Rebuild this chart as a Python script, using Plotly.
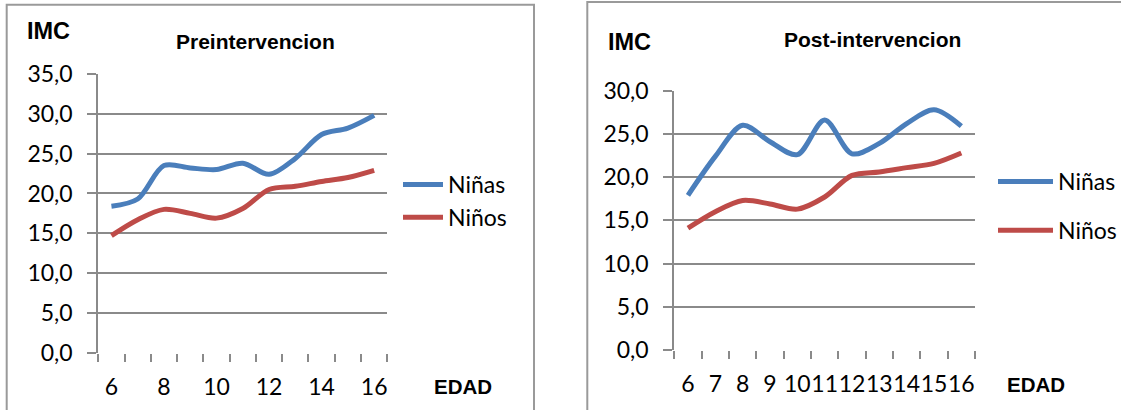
import plotly.graph_objects as go

# Ages (EDAD) and mean BMI (IMC) per group
edad = [6, 7, 8, 9, 10, 11, 12, 13, 14, 15, 16]

pre_ninas = [18.4, 19.3, 23.5, 23.2, 23.0, 23.8, 22.4, 24.4, 27.4, 28.2, 29.8]
pre_ninos = [14.7, 16.7, 18.0, 17.5, 16.9, 18.1, 20.5, 20.9, 21.5, 22.0, 22.9]

post_ninas = [17.9, 22.4, 26.0, 24.1, 22.6, 26.6, 22.7, 23.9, 26.2, 27.8, 25.9]
post_ninos = [14.1, 16.0, 17.3, 16.9, 16.3, 17.7, 20.2, 20.6, 21.1, 21.6, 22.8]

pre_ticks = [6, 8, 10, 12, 14, 16]
post_ticks = edad

W, H = 1121, 410
BLUE = "#4A7EBB"
RED = "#BE4B48"
GRID = "#8a8a8a"
TICK_FONT = dict(family="Lato", size=23, color="#000000")
BOLD = "Liberation Sans"


def px(x):
    return x / W


def py(y):
    return 1 - y / H


fig = go.Figure()

series = [
    ("x", "y", "legend", pre_ninas, pre_ninos),
    ("x2", "y2", "legend2", post_ninas, post_ninos),
]
for xa, ya, leg, ninas, ninos in series:
    fig.add_trace(go.Scatter(
        x=edad, y=ninas, name="Niñas", xaxis=xa, yaxis=ya, legend=leg,
        legendgroup=leg + "a", mode="lines",
        line=dict(color=BLUE, width=5, shape="spline", smoothing=0.9),
    ))
    fig.add_trace(go.Scatter(
        x=edad, y=ninos, name="Niños", xaxis=xa, yaxis=ya, legend=leg,
        legendgroup=leg + "b", mode="lines",
        line=dict(color=RED, width=5, shape="spline", smoothing=0.9),
    ))


def xaxis(domain, ticks):
    return dict(
        domain=domain, range=[5.5, 16.5], showgrid=False, zeroline=False,
        showline=False, tickvals=ticks, ticktext=[str(t) for t in ticks],
        ticks="", tickangle=0, tickfont=TICK_FONT, ticklabelstandoff=18,
        minor=dict(tickvals=[v + 0.5 for v in range(5, 17)], ticks="outside",
                   ticklen=8, tickwidth=2, tickcolor=GRID, showgrid=False),
        automargin=False, fixedrange=True,
    )


def yaxis(domain, top, anchor):
    return dict(
        domain=domain, range=[0, top], dtick=5, tickformat=".1f",
        showgrid=True, gridcolor=GRID, gridwidth=1.5, zeroline=False,
        showline=True, linecolor=GRID, linewidth=2,
        ticks="outside", ticklen=9, tickwidth=1.5, tickcolor=GRID,
        tickfont=TICK_FONT, ticklabelstandoff=10, anchor=anchor,
        automargin=False, fixedrange=True,
    )


fig.update_layout(
    width=W, height=H,
    margin=dict(l=0, r=0, t=0, b=0, autoexpand=False),
    paper_bgcolor="white", plot_bgcolor="white",
    separators=", ",
    xaxis=xaxis([px(98.3), px(387.3)], pre_ticks) | dict(anchor="y"),
    yaxis=yaxis([py(352.7), py(74)], 35, "x"),
    xaxis2=xaxis([px(674.3), px(975)], post_ticks) | dict(anchor="y2"),
    yaxis2=yaxis([py(350), py(90.7)], 30, "x2"),
    legend=dict(x=px(398), y=py(163), xanchor="left", yanchor="top",
                font=TICK_FONT, bgcolor="rgba(0,0,0,0)",
                tracegroupgap=0, itemwidth=40),
    legend2=dict(x=px(993), y=py(160), xanchor="left", yanchor="top",
                 font=TICK_FONT, bgcolor="rgba(0,0,0,0)",
                 tracegroupgap=16, itemwidth=55),
    showlegend=True,
)

# Panel frames
fig.add_shape(type="rect", xref="paper", yref="paper",
              x0=px(6.7), x1=px(534), y0=py(420), y1=py(4.7),
              line=dict(color="#9a9a9a", width=2), layer="below")
fig.add_shape(type="rect", xref="paper", yref="paper",
              x0=px(587.3), x1=px(1130), y0=py(420), y1=py(2),
              line=dict(color="#9a9a9a", width=2), layer="below")

# Titles and axis captions
labels = [
    ("IMC", 48.5, 31, 23.5),
    ("Preintervencion", 255, 42, 21),
    ("EDAD", 463, 386.7, 20.5),
    ("IMC", 629, 41.7, 23.5),
    ("Post-intervencion", 872, 40, 21),
    ("EDAD", 1036, 384, 20.5),
]
for text, cx, cy, size in labels:
    fig.add_annotation(
        text=f"<b>{text}</b>", xref="paper", yref="paper",
        x=px(cx), y=py(cy), xanchor="center", yanchor="middle",
        showarrow=False, font=dict(family=BOLD, size=size, color="#000000"),
    )

fig.write_html("out.html")
